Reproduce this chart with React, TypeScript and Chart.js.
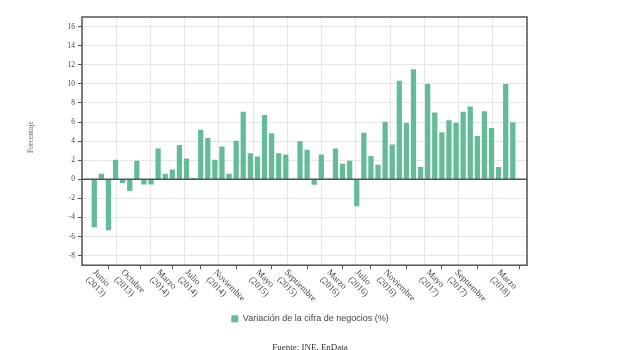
import React, { useEffect, useRef } from 'react';
import { Chart, registerables } from 'chart.js';

Chart.register(...registerables);

const categories: string[] = [
  'Junio (2013)', 'Julio (2013)', 'Agosto (2013)', 'Septiembre (2013)', 'Octubre (2013)', 'Noviembre (2013)', 'Diciembre (2013)',
  'Enero (2014)', 'Febrero (2014)', 'Marzo (2014)', 'Abril (2014)', 'Mayo (2014)', 'Junio (2014)', 'Julio (2014)', 'Agosto (2014)', 'Septiembre (2014)', 'Octubre (2014)', 'Noviembre (2014)', 'Diciembre (2014)',
  'Enero (2015)', 'Febrero (2015)', 'Marzo (2015)', 'Abril (2015)', 'Mayo (2015)', 'Junio (2015)', 'Julio (2015)', 'Agosto (2015)', 'Septiembre (2015)', 'Octubre (2015)', 'Noviembre (2015)', 'Diciembre (2015)',
  'Enero (2016)', 'Febrero (2016)', 'Marzo (2016)', 'Abril (2016)', 'Mayo (2016)', 'Junio (2016)', 'Julio (2016)', 'Agosto (2016)', 'Septiembre (2016)', 'Octubre (2016)', 'Noviembre (2016)', 'Diciembre (2016)',
  'Enero (2017)', 'Febrero (2017)', 'Marzo (2017)', 'Abril (2017)', 'Mayo (2017)', 'Junio (2017)', 'Julio (2017)', 'Agosto (2017)', 'Septiembre (2017)', 'Octubre (2017)', 'Noviembre (2017)', 'Diciembre (2017)',
  'Enero (2018)', 'Febrero (2018)', 'Marzo (2018)', 'Abril (2018)', 'Mayo (2018)',
];

const values: number[] = [
  -5.0, 0.55, -5.3, 2.0, -0.35, -1.2, 1.9,
  -0.5, -0.5, 3.2, 0.55, 1.0, 3.55, 2.15, 0.1, 5.15, 4.3, 2.0, 3.4,
  0.55, 4.0, 7.05, 2.7, 2.35, 6.7, 4.8, 2.7, 2.55, 0.05, 3.95, 3.05,
  -0.55, 2.55, 0.05, 3.2, 1.6, 1.9, -2.8, 4.85, 2.4, 1.5, 6.0, 3.6,
  10.3, 5.85, 11.5, 1.25, 9.95, 6.95, 4.9, 6.15, 5.9, 7.05, 7.6, 4.5,
  7.1, 5.35, 1.25, 9.95, 5.95,
];

const tickLabels: string[] = [
  'Junio (2013)', 'Octubre (2013)', 'Marzo (2014)', 'Julio (2014)', 'Noviembre (2014)',
  'Mayo (2015)', 'Septiembre (2015)', 'Marzo (2016)', 'Julio (2016)', 'Noviembre (2016)',
  'Mayo (2017)', 'Septiembre (2017)', 'Marzo (2018)',
];

const yTicks: number[] = [-8, -6, -4, -2, 0, 2, 4, 6, 8, 10, 12, 14, 16];

const seriesName = 'Variación de la cifra de negocios (%)';
const yTitle = 'Porcentaje';
const sourceText = 'Fuente: INE, EnData';

const BAR_COLOR = 'rgb(99,187,152)';
const FRAME = '#555555';
const GRID = '#e6e6e6';

const framePlugin = {
  id: 'frame',
  afterDatasetsDraw(chart: any) {
    const { ctx, chartArea, scales } = chart;
    ctx.save();
    const y0 = scales.y.getPixelForValue(0);
    ctx.strokeStyle = FRAME;
    ctx.lineWidth = 1.5;
    ctx.beginPath();
    ctx.moveTo(chartArea.left, y0);
    ctx.lineTo(chartArea.right, y0);
    ctx.stroke();
    ctx.strokeRect(chartArea.left, chartArea.top, chartArea.right - chartArea.left, chartArea.bottom - chartArea.top);
    ctx.restore();
  },
};

const textPlugin = {
  id: 'axisTexts',
  afterDraw(chart: any) {
    const { ctx, chartArea, scales } = chart;
    const sx = scales.x;
    ctx.save();
    ctx.font = '9px "Liberation Serif"';
    ctx.fillStyle = '#444444';
    ctx.textAlign = 'left';
    ctx.textBaseline = 'middle';
    tickLabels.forEach((lbl) => {
      const idx = categories.indexOf(lbl);
      const x = sx.getPixelForValue(idx);
      ctx.save();
      ctx.translate(x, chartArea.bottom + 6);
      ctx.rotate(Math.PI / 4);
      lbl.split(' ').forEach((line, i) => ctx.fillText(line, 0, i * 10));
      ctx.restore();
    });
    // y-axis title
    ctx.save();
    ctx.font = '7.5px "Liberation Serif"';
    ctx.fillStyle = '#666666';
    ctx.textAlign = 'center';
    ctx.textBaseline = 'middle';
    ctx.translate(23, (chartArea.top + chartArea.bottom) / 2 - 4);
    ctx.rotate(-Math.PI / 2);
    ctx.fillText(yTitle, 0, 0);
    ctx.restore();
    ctx.restore();
  },
};

export default function App() {
  const ref = useRef<HTMLCanvasElement | null>(null);

  useEffect(() => {
    if (!ref.current) return;
    const chart = new Chart(ref.current, {
      type: 'bar',
      data: {
        datasets: [
          {
            label: seriesName,
            data: values.map((v, i) => ({ x: i, y: v })),
            backgroundColor: BAR_COLOR,
            borderWidth: 0,
            barThickness: 4.6,
          },
        ],
      },
      options: {
        animation: false,
        responsive: false,
        layout: { padding: { top: 9, left: 0, right: 0, bottom: 0 } },
        plugins: {
          legend: {
            position: 'bottom',
            labels: {
              boxWidth: 7,
              boxHeight: 7,
              padding: 6,
              color: '#444444',
              font: { family: '"Liberation Sans", Arial, sans-serif', size: 9 },
            },
          },
          title: {
            display: true,
            text: sourceText,
            position: 'bottom',
            color: '#333333',
            font: { family: '"Liberation Serif", serif', size: 9, weight: 'normal' },
            padding: { top: 9, bottom: 5 },
          },
          tooltip: { enabled: false },
        },
        scales: {
          x: {
            type: 'linear',
            position: 'bottom',
            min: -1.73,
            max: 61,
            offset: false,
            afterBuildTicks: (s: any) => {
              s.ticks = tickLabels.map((l) => ({ value: categories.indexOf(l) }));
            },
            afterFit: (s: any) => {
              s.height = 43;
            },
            ticks: { display: false },
            grid: { drawOnChartArea: false, drawTicks: true, tickLength: 4, tickColor: FRAME, lineWidth: 1 },
            border: { display: false },
          },
          xg: {
            type: 'linear',
            position: 'top',
            min: 0,
            max: 12,
            afterBuildTicks: (s: any) => {
              const t = [];
              for (let i = 0; i <= 12; i++) t.push({ value: i });
              s.ticks = t;
            },
            ticks: { display: false },
            grid: { color: GRID, drawTicks: false, lineWidth: 1 },
            border: { display: false },
          },
          y: {
            type: 'linear',
            position: 'left',
            min: -9,
            max: 17,
            afterBuildTicks: (s: any) => {
              s.ticks = yTicks.map((v) => ({ value: v }));
            },
            afterFit: (s: any) => {
              s.width = 74;
            },
            ticks: {
              color: '#444444',
              padding: 3,
              font: { family: '"Liberation Serif", serif', size: 7.5 },
            },
            grid: { color: GRID, tickColor: FRAME, tickLength: 4, lineWidth: 1 },
            border: { display: false },
          },
          yr: {
            type: 'linear',
            position: 'right',
            afterFit: (s: any) => {
              s.width = 85;
            },
            ticks: { display: false },
            grid: { display: false },
            border: { display: false },
          },
        },
      } as any,
      plugins: [framePlugin, textPlugin],
    });
    return () => chart.destroy();
  }, []);

  return (
    <div style={{ width: 604, height: 342, overflow: 'hidden' }}>
      <canvas ref={ref} width={604} height={350} style={{ display: 'block' }} />
    </div>
  );
}
